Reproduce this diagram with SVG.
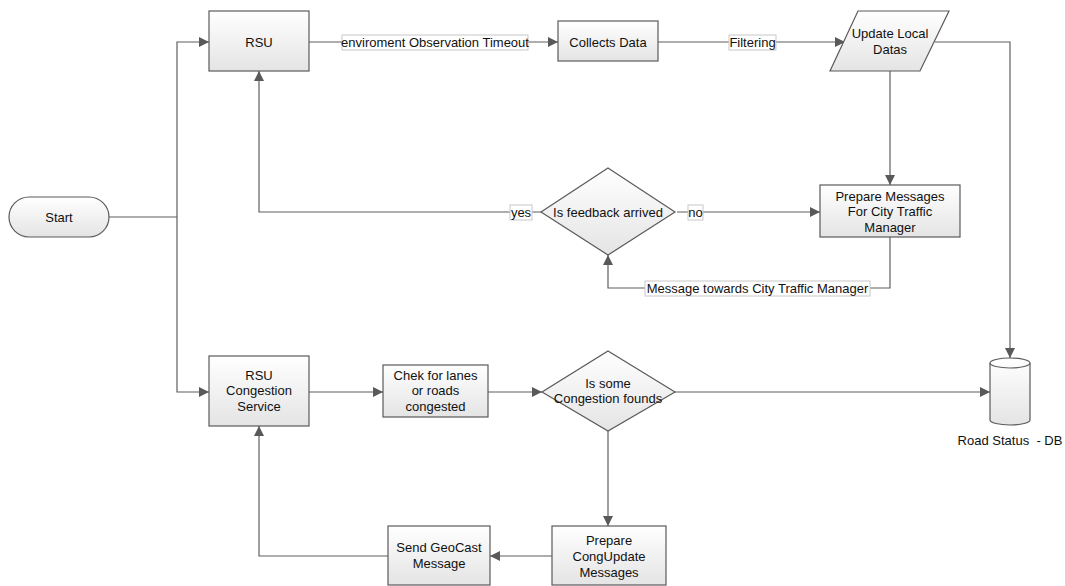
<svg xmlns="http://www.w3.org/2000/svg" width="1065" height="586" viewBox="0 0 1065 586">
  <defs>
    <linearGradient id="fill" x1="0" y1="0" x2="0" y2="1">
      <stop offset="0" stop-color="#ffffff"/>
      <stop offset="1" stop-color="#e4e4e4"/>
    </linearGradient>
    <marker id="arrow" viewBox="0 0 10 10" refX="10" refY="5" markerWidth="10" markerHeight="10" markerUnits="userSpaceOnUse" orient="auto">
      <path d="M0,0 L10,5 L0,10 z" fill="#595959"/>
    </marker>
    <style>
      .shape { fill: url(#fill); stroke: #5a5a5a; stroke-width: 1.2; }
      .line { fill: none; stroke: #5f5f5f; stroke-width: 1.2; }
      .arr { marker-end: url(#arrow); }
      text { font-family: "Liberation Sans", Arial, sans-serif; font-size: 13px; fill: #111; text-anchor: middle; white-space: pre; }
      .lbl { fill: #ffffff; stroke: #c8c8c8; stroke-width: 1; }
    </style>
  </defs>

  <!-- connectors -->
  <g id="connectors">
    <path class="line" d="M109,217 H177"/>
    <path class="line arr" d="M177,217 V42 H209"/>
    <path class="line arr" d="M177,217 V392 H209"/>
    <path class="line arr" d="M309,42 H558"/>
    <path class="line arr" d="M658,42 H845"/>
    <path class="line arr" d="M935,42 H1010 V358"/>
    <path class="line arr" d="M890,71 V185"/>
    <path class="line arr" d="M541,212 H259 V71"/>
    <path class="line arr" d="M677,212 H820"/>
    <path class="line arr" d="M890,237 V288 H608 V255"/>
    <path class="line arr" d="M309,392 H383"/>
    <path class="line arr" d="M488,392 H542"/>
    <path class="line arr" d="M675,392 H990"/>
    <path class="line arr" d="M608,431 V526"/>
    <path class="line arr" d="M552,556 H490"/>
    <path class="line arr" d="M388,556 H259 V426"/>

    <!-- edge labels -->
    <rect class="lbl" x="342" y="35" width="186" height="15"/>
    <text x="435" y="47">enviroment Observation Timeout</text>
    <rect class="lbl" x="729" y="35" width="47" height="15"/>
    <text x="752.5" y="47">Filtering</text>
    <rect class="lbl" x="510" y="205" width="22" height="15"/>
    <text x="521" y="217">yes</text>
    <rect class="lbl" x="688" y="205" width="15" height="15"/>
    <text x="695.5" y="217">no</text>
    <rect class="lbl" x="645" y="281" width="225" height="15"/>
    <text x="757.5" y="293">Message towards City Traffic Manager</text>
  </g>

  <g id="start">
    <rect class="shape" x="9" y="197" width="100" height="40" rx="20" ry="20"/>
    <text x="59" y="222">Start</text>
  </g>

  <g id="rsu">
    <rect class="shape" x="209" y="11" width="100" height="60"/>
    <text x="259" y="47">RSU</text>
  </g>

  <g id="collects-data">
    <rect class="shape" x="558" y="21" width="100" height="40"/>
    <text x="608" y="47">Collects Data</text>
  </g>

  <g id="update-local-datas">
    <polygon class="shape" points="858,11 949,11 920,71 830,71"/>
    <text x="890" y="38">Update Local</text>
    <text x="890" y="54">Datas</text>
  </g>

  <g id="prepare-messages">
    <rect class="shape" x="820" y="185" width="140" height="52"/>
    <text x="890" y="201">Prepare Messages</text>
    <text x="890" y="216">For City Traffic</text>
    <text x="890" y="232">Manager</text>
  </g>

  <g id="feedback-decision">
    <polygon class="shape" points="608,168 675,212 608,255 541,212"/>
    <text x="608" y="217">Is feedback arrived</text>
  </g>

  <g id="rsu-congestion">
    <rect class="shape" x="209" y="356" width="100" height="70"/>
    <text x="259" y="380">RSU</text>
    <text x="259" y="395">Congestion</text>
    <text x="259" y="411">Service</text>
  </g>

  <g id="check-lanes">
    <rect class="shape" x="383" y="365" width="105" height="52"/>
    <text x="435.5" y="380">Chek for lanes</text>
    <text x="435.5" y="395">or roads</text>
    <text x="435.5" y="411">congested</text>
  </g>

  <g id="congestion-decision">
    <polygon class="shape" points="608,351 675,392 608,431 542,392"/>
    <text x="608" y="388">Is some</text>
    <text x="608" y="403">Congestion founds</text>
  </g>

  <g id="road-status-db">
    <path class="shape" d="M990,363 V420 A20,5 0 0 0 1030,420 V363 A20,5 0 0 0 990,363 Z"/>
    <path class="line" d="M990,363 A20,5 0 0 0 1030,363"/>
    <text x="1010" y="445">Road Status  - DB</text>
  </g>

  <g id="prepare-congupdate">
    <rect class="shape" x="552" y="526" width="114" height="59"/>
    <text x="609" y="545">Prepare</text>
    <text x="609" y="561">CongUpdate</text>
    <text x="609" y="577">Messages</text>
  </g>

  <g id="send-geocast">
    <rect class="shape" x="388" y="526" width="102" height="59"/>
    <text x="439" y="552">Send GeoCast</text>
    <text x="439" y="568">Message</text>
  </g>
</svg>
